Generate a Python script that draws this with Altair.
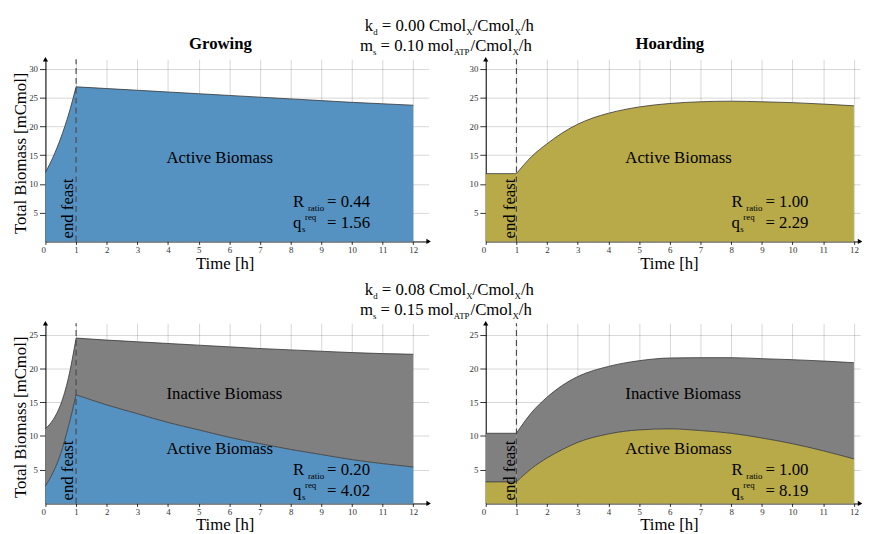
import altair as alt
import pandas as pd

FONT = "Liberation Serif"
BLUE = "#5592c2"
OLIVE = "#b8aa48"
GRAY = "#808080"

# ---------------- data ----------------
# Growing, kd = 0.00
g0_feast_t = [0, 0.25, 0.5, 0.75, 1]
g0_feast_active = [12.0, 14.7, 18.0, 22.0, 26.9]
g0_famine_t = [1, 2, 3, 4, 5, 6, 7, 8, 9, 10, 11, 12]
g0_famine_active = [26.9, 26.6, 26.3, 26.0, 25.7, 25.4, 25.1, 24.8, 24.5, 24.2, 23.95, 23.7]

# Hoarding, kd = 0.00
h0_feast_t = [0, 1]
h0_feast_active = [11.8, 11.8]
h0_famine_t = [1, 1.5, 2, 2.5, 3, 3.5, 4, 5, 6, 7, 8, 9, 10, 11, 12]
h0_famine_active = [11.8, 14.8, 17.0, 18.9, 20.4, 21.5, 22.3, 23.4, 24.0, 24.3, 24.4, 24.3, 24.15, 23.9, 23.6]

# Growing, kd = 0.08
g8_feast_t = [0, 0.25, 0.5, 0.75, 1]
g8_feast_total = [11.1, 12.4, 14.7, 18.6, 24.5]
g8_feast_active = [2.6, 4.6, 7.4, 11.4, 16.1]
g8_famine_t = [1, 2, 3, 4, 5, 6, 7, 8, 9, 10, 11, 12]
g8_famine_total = [24.5, 24.2, 23.95, 23.7, 23.45, 23.2, 22.95, 22.75, 22.55, 22.35, 22.2, 22.1]
g8_famine_active = [16.1, 14.6, 13.3, 12.0, 10.9, 9.8, 8.85, 8.0, 7.25, 6.5, 5.9, 5.4]

# Hoarding, kd = 0.08
h8_feast_t = [0, 1]
h8_feast_total = [10.4, 10.4]
h8_feast_active = [3.2, 3.2]
h8_famine_t = [1, 1.5, 2, 2.5, 3, 4, 5, 6, 7, 8, 9, 10, 11, 12]
h8_famine_total = [10.4, 13.5, 15.75, 17.5, 18.8, 20.3, 21.15, 21.55, 21.6, 21.6, 21.45, 21.3, 21.1, 20.85]
h8_famine_active = [3.2, 5.2, 6.75, 8.0, 9.05, 10.3, 10.9, 11.05, 10.8, 10.4, 9.7, 8.85, 7.8, 6.6]

x_ticks = list(range(0, 13))
r_ratio = ["0.44", "1.00", "0.20", "1.00"]
q_req = ["1.56", "2.29", "4.02", "8.19"]
kd_vals = ["0.00", "0.08"]
ms_vals = ["0.10", "0.15"]

# ---------------- helpers ----------------
NB = "\u00a0"
W = {' ': 250, NB: 250, '=': 564, '.': 250, 'C': 667, 'm': 778, 'o': 500, 'l': 278, '/': 278,
     'h': 500, 'k': 500, 'X': 722, 'A': 722, 'T': 611, 'P': 556, 'd': 500, 's': 389,
     'R': 667, 'q': 500, 'r': 333, 'a': 444, 't': 278, 'i': 278, 'e': 444}


def tw(s, size):
    return sum(W.get(c, 500) for c in s) * size / 1000.0


one = pd.DataFrame({"k": [0]})
FS = 17
SUB = 9


def frame(t_feast, t_famine, active_feast, active_famine, total_feast=None, total_famine=None):
    rows = []
    for i, t in enumerate(t_feast):
        rows.append({"t": t, "active": active_feast[i],
                     "total": total_feast[i] if total_feast else None, "phase": "feast"})
    for i, t in enumerate(t_famine):
        rows.append({"t": t, "active": active_famine[i],
                     "total": total_famine[i] if total_famine else None, "phase": "famine"})
    return pd.DataFrame(rows)


def txt(text, x, y, size=FS, dx=0, weight="normal", angle=0):
    return alt.Chart(one).mark_text(text=text, align="left", baseline="alphabetic", font=FONT,
                                    fontSize=size, fontWeight=weight, color="black", dx=dx,
                                    angle=angle).encode(x=x, y=y)


def rich(segs, x0, y0):
    out = []
    x = x0
    for text, kind in segs:
        size = FS if kind == "n" else SUB
        stripped = text.lstrip(" ")
        x += tw(text[:len(text) - len(stripped)], size)
        dy = 0 if kind == "n" else (4 if kind == "sub" else -8)
        out.append(txt(stripped.replace(" ", NB), alt.value(x), alt.value(y0 + dy), size=size))
        x += tw(stripped, size)
    return out


def panel(df, color, xmax, ymax, ytitle, title, title_x, idx, header, label_x, row):
    width = round(xmax * 31.15)
    height = round(ymax * (5.833 if row == 0 else 6.853))
    left = idx % 2 == 0
    xs = alt.Scale(domain=[0, xmax], nice=False, zero=False)
    ys = alt.Scale(domain=[0, ymax], nice=False, zero=False)
    xax = alt.Axis(values=x_ticks, tickCount=40, format="d", title="Time [h]",
                   titleX=182 if left else 186,
                   titleY=27.5 if row == 0 else 26, titleBaseline="alphabetic",
                   labelAlign={"condition": {"test": "datum.value == 0", "value": "right"},
                               "value": "center"},
                   labelOverlap=False, labelFlush=False, tickSize=3, labelPadding=1)
    yax = alt.Axis(values=list(range(5, int(ymax) + 1, 5)), tickCount=40, format="d",
                   title=ytitle if left else None,
                   titleX=-20.7, titleY=95, titleBaseline="alphabetic", titleAngle=270,
                   labelOverlap=False, tickSize=6, labelPadding=2)
    X = alt.X("t:Q", scale=xs, axis=xax)
    base = alt.Chart(df)
    layers = []
    active = base.mark_area(color=color, opacity=1, interpolate="monotone").encode(
        x=X, y=alt.Y("active:Q", scale=ys, axis=yax, stack=None), detail="phase:N")
    layers.append(active)
    if df["total"].notna().any():
        inactive = base.mark_area(color=GRAY, opacity=1, interpolate="monotone").encode(
            x=X, y=alt.Y("total:Q", scale=ys, axis=yax, stack=None), y2="active:Q", detail="phase:N")
        layers.append(inactive)
        layers.append(base.mark_line(color="#333", strokeWidth=0.8, interpolate="monotone").encode(
            x=X, y=alt.Y("total:Q", scale=ys, axis=yax, stack=None), detail="phase:N"))
    layers.append(base.mark_line(color="#333", strokeWidth=0.8, interpolate="monotone").encode(
        x=X, y=alt.Y("active:Q", scale=ys, axis=yax, stack=None), detail="phase:N"))
    # end of feast marker
    layers.append(alt.Chart(one).mark_rule(color="#444", strokeDash=[6, 4], strokeWidth=1.1).encode(
        x=alt.datum(1), y=alt.datum(0), y2=alt.datum(ymax)))
    # axis arrows
    layers.append(alt.Chart(one).mark_point(shape="triangle-up", filled=True, size=28, color="black",
                                            opacity=1).encode(x=alt.datum(0), y=alt.datum(ymax)))
    layers.append(alt.Chart(one).mark_point(shape="triangle-right", filled=True, size=28, color="black",
                                            opacity=1).encode(x=alt.datum(xmax), y=alt.datum(0)))
    # texts
    ef_x = 0.91 if left else 0.94
    layers.append(txt("end" + NB + "feast", alt.datum(ef_x), alt.value(height - 3), angle=270))
    if df["total"].notna().any():
        layers.append(txt("Inactive Biomass", alt.datum(label_x), alt.value(77)))
        layers.append(txt("Active Biomass", alt.datum(label_x), alt.value(132.7)))
    else:
        layers.append(txt("Active Biomass", alt.datum(label_x), alt.value(105)))
    rx = 8.08 if left else 8.01
    ry1, ry2 = (150, 171.5) if row == 0 else (154.5, 175.5)
    layers.append(txt("R", alt.datum(rx), alt.value(ry1)))
    layers.append(txt("ratio", alt.datum(rx), alt.value(ry1 + 4), size=SUB, dx=15))
    layers.append(txt("=" + NB + r_ratio[idx], alt.datum(rx), alt.value(ry1), dx=34.5))
    layers.append(txt("q", alt.datum(rx), alt.value(ry2)))
    layers.append(txt("s", alt.datum(rx), alt.value(ry2 + 4), size=SUB, dx=9))
    layers.append(txt("req", alt.datum(rx), alt.value(ry2 - 8), size=SUB, dx=12))
    layers.append(txt("=" + NB + q_req[idx], alt.datum(rx), alt.value(ry2), dx=34.5))
    if title:
        layers.append(alt.Chart(one).mark_text(text=title, align="center", baseline="alphabetic",
                                               font=FONT, fontSize=FS, fontWeight="bold",
                                               color="black").encode(x=alt.datum(title_x),
                                                                     y=alt.value(-10.5)))
    if header is not None:
        kd, ms = header
        layers += rich([("k", "n"), ("d", "sub"), (" = " + kd + " Cmol", "n"), ("X", "sub"),
                        ("/Cmol", "n"), ("X", "sub"), ("/h", "n")], 324.3, -28.5)
        layers += rich([("m", "n"), ("s", "sub"), (" = " + ms + " mol", "n"), ("ATP", "sub"),
                        ("/Cmol", "n"), ("X", "sub"), ("/h", "n")], 319.3, -8.5)
    return alt.layer(*layers).properties(width=width, height=height)


df_g0 = frame(g0_feast_t, g0_famine_t, g0_feast_active, g0_famine_active)
df_h0 = frame(h0_feast_t, h0_famine_t, h0_feast_active, h0_famine_active)
df_g8 = frame(g8_feast_t, g8_famine_t, g8_feast_active, g8_famine_active, g8_feast_total, g8_famine_total)
df_h8 = frame(h8_feast_t, h8_famine_t, h8_feast_active, h8_famine_active, h8_feast_total, h8_famine_total)

YT = "Total Biomass [mCmol]"
tl = panel(df_g0, BLUE, 12.5, 31.7, YT, "Growing", 5.71, 0, (kd_vals[0], ms_vals[0]), 3.95, 0)
tr = panel(df_h0, OLIVE, 12.2, 31.7, None, "Hoarding", 6.0, 1, None, 4.55, 0)
bl = panel(df_g8, BLUE, 12.5, 26.7, YT, None, 0, 2, (kd_vals[1], ms_vals[1]), 3.95, 1)
br = panel(df_h8, OLIVE, 12.2, 26.7, None, None, 0, 3, None, 4.55, 1)

chart = alt.ConcatChart(concat=[tl, tr, bl, br], columns=2, spacing={"row": 83, "column": 58},
                        bounds="flush").properties(
    padding={"left": 3, "top": 5, "right": 0, "bottom": 0}
).configure_view(stroke=None).configure_axis(
    labelFont=FONT, labelFontSize=9, labelColor="#333", gridColor="black", gridOpacity=0.2,
    gridWidth=0.8, domainColor="black", domainWidth=1, tickColor="#333", titleFont=FONT,
    titleFontSize=FS, titleFontWeight="normal", titleColor="black", zindex=1
)

chart.save("out.html", embed_options={"renderer": "svg", "actions": False})
